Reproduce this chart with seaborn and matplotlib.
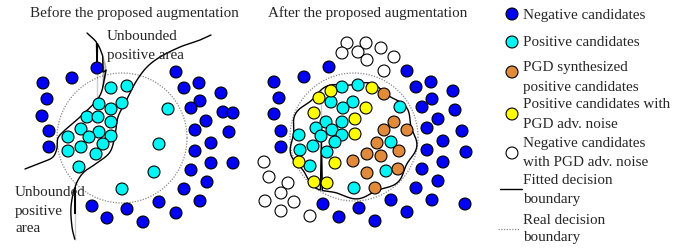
import numpy as np
import pandas as pd
import matplotlib
matplotlib.use("Agg")
import matplotlib.pyplot as plt
import seaborn as sns

sns.set_theme(style="white")
plt.rcParams['font.family'] = ['Liberation Serif', 'DejaVu Serif']

# ---------------- data (pixel-space positions) ----------------
# Left panel: before augmentation
neg_before_x = [97, 72, 43, 47, 42, 49, 49, 176, 184, 199, 221, 200, 191, 223, 233, 206, 195, 229, 211,
                195, 211, 233, 191, 207, 184, 200, 159, 176, 127, 143, 107, 92]
neg_before_y = [68, 78, 83, 99, 116, 131, 147, 72, 88, 83, 93, 101, 108, 112, 113, 121, 130, 132, 143,
                151, 163, 163, 170, 182, 189, 201, 202, 213, 209, 222, 218, 206]
pos_before_x = [111, 127, 99, 111, 122, 168, 87, 98, 111, 81, 99, 111, 68, 89, 103, 81, 68, 96, 159, 79, 154, 122]
pos_before_y = [88, 86, 104, 109, 103, 109, 117, 117, 122, 129, 132, 136, 137, 137, 144, 147, 151, 154, 144, 167, 172, 189]

# Right panel: after augmentation
noise_neg_x = [347, 366, 381, 342, 358, 367, 394, 384, 264, 269, 288, 281, 265, 294, 281, 310]
noise_neg_y = [43, 43, 48, 53, 52, 60, 57, 71, 162, 177, 183, 193, 201, 202, 211, 216]
neg_after_x = [329, 304, 274, 279, 274, 281, 281, 407, 416, 431, 453, 432, 422, 455, 438, 427, 462, 443,
               427, 466, 443, 422, 438, 416, 432, 391, 407, 359, 375, 339, 323, 465]
neg_after_y = [67, 77, 82, 98, 114, 131, 147, 71, 87, 82, 91, 99, 107, 110, 119, 128, 131, 141,
               150, 152, 162, 169, 181, 188, 200, 200, 212, 208, 221, 217, 204, 204]
pos_after_x = [342, 358, 331, 353, 343, 400, 326, 342, 316, 332, 321, 342, 299, 335, 313, 300, 327, 391, 310, 386, 354]
pos_after_y = [87, 85, 102, 102, 108, 107, 122, 122, 128, 130, 136, 135, 135, 142, 146, 150, 152, 142, 166, 171, 188]
noise_pos_x = [331, 319, 372, 314, 366, 355, 355, 299, 335, 314, 327]
noise_pos_y = [91, 98, 88, 113, 108, 119, 134, 162, 163, 182, 183]
pgd_x = [384, 394, 384, 407, 377, 367, 381, 399, 353, 367, 398, 375]
pgd_y = [94, 122, 130, 130, 143, 154, 156, 151, 161, 173, 169, 188]

# Hand-drawn boundaries of the left panel
curve_a_x = [87, 97, 103, 106, 103, 97, 80, 65, 58, 57, 53, 43, 25]
curve_a_y = [33, 43, 57, 70, 87, 100, 117, 130, 138, 148, 157, 162, 169]
curve_b_x = [211, 200, 180, 160, 147, 137, 130, 125, 118, 115, 110, 97, 83, 75, 71, 72, 75]
curve_b_y = [35, 40, 47, 57, 67, 80, 93, 103, 117, 135, 152, 163, 173, 187, 207, 227, 240]

legend_labels = [["Negative candidates"],
                 ["Positive candidates"],
                 ["PGD synthesized", "positive candidates"],
                 ["Positive candidates with", "PGD adv. noise"],
                 ["Negative candidates", "with PGD adv. noise"]]
titles = ["Before the proposed augmentation", "After the proposed augmentation"]

colors = {"neg": "#0000F5", "pos": "#00F5F5", "pgd": "#E08A3C", "npos": "#FFFF00", "nneg": "#FFFFFF"}

# ---------------- figure ----------------
fig = plt.figure(figsize=(6.83, 2.48), dpi=100)
ax = fig.add_axes([0, 0, 1, 1])
ax.set_xlim(0, 683)
ax.set_ylim(248, 0)
ax.axis("off")


def catmull(xs, ys, n=16, closed=False):
    p = np.column_stack([xs, ys]).astype(float)
    if closed:
        p = np.vstack([p[-1], p, p[0], p[1]])
    else:
        p = np.vstack([2 * p[0] - p[1], p, 2 * p[-1] - p[-2]])
    out = []
    t = np.linspace(0, 1, n, endpoint=False)[:, None]
    for i in range(1, len(p) - 2):
        p0, p1, p2, p3 = p[i - 1], p[i], p[i + 1], p[i + 2]
        seg = 0.5 * ((2 * p1) + (-p0 + p2) * t + (2 * p0 - 5 * p1 + 4 * p2 - p3) * t ** 2
                     + (-p0 + 3 * p1 - 3 * p2 + p3) * t ** 3)
        out.append(seg)
    out.append(p[-2][None, :])
    out = np.vstack(out)
    return out[:, 0], out[:, 1]


# dotted "real decision boundary" circles
th = np.linspace(0, 2 * np.pi, 400)
for cx, cy, r in [(122, 138, 65), (354, 137, 64)]:
    ax.plot(cx + r * np.cos(th), cy + r * np.sin(th), color="#8a8a8a", lw=0.9,
            linestyle=(0, (1, 1.2)), zorder=1)

# fitted boundary (wavy) in right panel
wx = 353 + 62 * (1 + 0.035 * np.sin(9 * th + 0.6)) * np.cos(th)
wy = 140 + 57 * (1 + 0.035 * np.sin(9 * th + 0.6)) * np.sin(th)
sns.lineplot(x=wx, y=wy, sort=False, color="black", lw=1.0, ax=ax, zorder=2)

# left-panel boundary curves
for cxs, cys in [(curve_a_x, curve_a_y), (curve_b_x, curve_b_y)]:
    sx, sy = catmull(cxs, cys)
    sns.lineplot(x=sx, y=sy, sort=False, color="black", lw=1.0, ax=ax, zorder=2)

MS = 74
# scatter points
frames = []
for xs, ys, cat in [(neg_before_x, neg_before_y, "neg"), (pos_before_x, pos_before_y, "pos"),
                    (noise_neg_x, noise_neg_y, "nneg"), (neg_after_x, neg_after_y, "neg"),
                    (pos_after_x, pos_after_y, "pos"), (noise_pos_x, noise_pos_y, "npos"),
                    (pgd_x, pgd_y, "pgd")]:
    frames.append(pd.DataFrame({"x": xs, "y": ys, "cat": cat}))
df = pd.concat(frames, ignore_index=True)
sns.scatterplot(data=df, x="x", y="y", hue="cat", palette=colors, s=MS, edgecolor="black",
                linewidth=0.8, legend=False, ax=ax, zorder=3)

# titles
ax.text(30, 13, titles[0], fontsize=10.9, va="center", ha="left")
ax.text(268, 13, titles[1], fontsize=10.9, va="center", ha="left")

# annotations in left panel
ax.text(107, 37, "Unbounded", fontsize=10.9, va="center", ha="left")
ax.text(107, 55, "positive area", fontsize=10.9, va="center", ha="left")
for yy, s in zip([192, 211, 229], ["Unbounded", "positive", "area"]):
    ax.text(15, yy, s, fontsize=10.9, va="center", ha="left")

# legend
marker_y = [14, 42, 72, 114, 153]
text_y = [[15], [43], [68, 87], [105, 125], [143, 162]]
leg_cats = ["neg", "pos", "pgd", "npos", "nneg"]
leg_df = pd.DataFrame({"x": [512] * 5, "y": marker_y, "cat": leg_cats})
sns.scatterplot(data=leg_df, x="x", y="y", hue="cat", palette=colors, s=MS, edgecolor="black",
                linewidth=0.8, legend=False, ax=ax, zorder=3)
for lines, ys in zip(legend_labels, text_y):
    for s, yy in zip(lines, ys):
        ax.text(523, yy, s, fontsize=10.9, va="center", ha="left")

ax.plot([500, 522], [189, 189], color="black", lw=1.0)
ax.text(523, 180, "Fitted decision", fontsize=10.9, va="center", ha="left")
ax.text(523, 199, "boundary", fontsize=10.9, va="center", ha="left")
ax.plot([498, 520], [229, 229], color="#8a8a8a", lw=0.9, linestyle=(0, (1, 1.2)))
ax.text(523, 220, "Real decision", fontsize=10.9, va="center", ha="left")
ax.text(523, 238, "boundary", fontsize=10.9, va="center", ha="left")

fig.savefig("out.png", dpi=100)
